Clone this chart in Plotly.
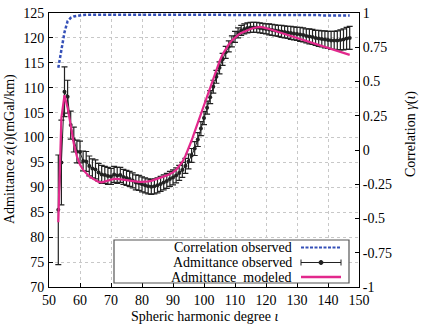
import plotly.graph_objects as go

degree = list(range(53, 148))

admittance_observed = [
    85.5, 95.0, 109.2, 108.2, 102.5, 99.6, 97.2, 97.1, 95.3, 95.2,   # 53-62
    94.3, 93.8, 93.6, 93.0, 92.6, 92.5, 92.3, 92.2, 92.6, 92.4,      # 63-72
    92.5, 92.1, 91.9, 91.7, 91.4, 91.0, 90.9, 90.6, 90.4, 90.2,      # 73-82
    90.1, 90.2, 90.4, 90.7, 91.0, 91.3, 91.7, 92.0, 92.4, 92.9,      # 83-92
    93.5, 94.3, 95.2, 96.4, 97.8, 99.6, 101.8, 103.9, 106.0, 108.1,  # 93-102
    110.2, 112.2, 114.0, 115.7, 117.1, 118.3, 119.3, 120.2, 121.0, 121.5,  # 103-112
    121.8, 122.0, 122.1, 122.1, 122.1, 122.0, 121.9, 121.8, 121.7, 121.6,  # 113-122
    121.5, 121.4, 121.3, 121.2, 121.1, 121.0, 120.9, 120.8, 120.7, 120.6,  # 123-132
    120.4, 120.3, 120.2, 120.0, 119.9, 119.8, 119.7, 119.6, 119.5, 119.5,  # 133-142
    119.5, 119.6, 119.7, 119.9, 120.0,                                      # 143-147
]

admittance_error = [
    11.0, 8.5, 5.0, 3.3, 2.8, 2.5, 2.3, 2.2, 2.0, 2.0,
    2.0, 1.9, 1.9, 1.8, 1.8, 1.7, 1.7, 1.6, 1.6, 1.6,
    1.5, 1.5, 1.5, 1.5, 1.5, 1.5, 1.5, 1.5, 1.5, 1.5,
    1.5, 1.5, 1.5, 1.5, 1.5, 1.5, 1.5, 1.5, 1.5, 1.5,
    1.5, 1.5, 1.5, 1.4, 1.4, 1.4, 1.4, 1.3, 1.3, 1.3,
    1.3, 1.3, 1.2, 1.2, 1.2, 1.1, 1.1, 1.1, 1.0, 1.0,
    1.0, 1.0, 1.0, 1.0, 1.0, 1.0, 1.0, 1.0, 1.1, 1.1,
    1.1, 1.1, 1.2, 1.2, 1.2, 1.3, 1.3, 1.3, 1.4, 1.4,
    1.4, 1.5, 1.5, 1.5, 1.6, 1.6, 1.7, 1.7, 1.8, 1.8,
    1.9, 2.0, 2.1, 2.2, 2.3,
]

admittance_modeled = [
    83.0, 104.0, 108.5, 106.0, 102.5, 98.8, 96.2, 94.6, 93.5, 92.8,
    92.2, 91.8, 91.4, 91.1, 91.0, 91.2, 91.4, 91.6, 91.7, 91.7,
    91.6, 91.5, 91.4, 91.3, 91.2, 91.1, 91.1, 91.1, 91.1, 91.2,
    91.3, 91.5, 91.7, 91.9, 92.1, 92.4, 92.7, 93.0, 93.5, 94.2,
    95.1, 96.3, 97.8, 99.4, 101.2, 103.0, 104.9, 106.7, 108.5, 110.2,
    111.8, 113.6, 115.3, 116.7, 117.8, 118.7, 119.5, 120.1, 120.6, 121.0,
    121.3, 121.6, 121.8, 122.0, 122.1, 122.2, 122.1, 122.0, 121.8, 121.6,
    121.4, 121.2, 121.0, 120.8, 120.6, 120.4, 120.2, 120.0, 119.8, 119.6,
    119.4, 119.2, 119.0, 118.8, 118.6, 118.4, 118.2, 118.0, 117.8, 117.6,
    117.3, 117.1, 116.9, 116.7, 116.6,
]

correlation_observed = [
    0.60, 0.72, 0.86, 0.94, 0.965, 0.975, 0.98, 0.985, 0.986, 0.987,
] + [0.988] * 60 + [0.985] * 15 + [0.982] * 10

x_ticks = [50, 60, 70, 80, 90, 100, 110, 120, 130, 140, 150]
y_ticks = [70, 75, 80, 85, 90, 95, 100, 105, 110, 115, 120, 125]
corr_ticks = [1, 0.75, 0.5, 0.25, 0, -0.25, -0.5, -0.75, -1]
corr_tick_labels = ["1", "0.75", "0.5", "0.25", "0", "-0.25", "-0.5", "-0.75", "-1"]

FONT = "'Liberation Serif', 'Times New Roman', 'DejaVu Serif', serif"
PINK = "#e2288c"
BLUE = "#3550b8"

# plot-area pixel frame (for placing titles / legend in paper coordinates)
PL, PR, PT, PB = 49, 359, 13, 287


def px(xp):
    return (xp - PL) / (PR - PL)


def py(yp):
    return (PB - yp) / (PB - PT)


fig = go.Figure()

fig.add_trace(go.Scatter(
    x=degree, y=admittance_observed, mode="lines+markers",
    line=dict(color="#222222", width=1),
    marker=dict(color="#222222", size=4),
    error_y=dict(type="data", array=admittance_error, color="#222222",
                 thickness=1.2, width=3),
    name="Admittance observed", showlegend=False,
))
fig.add_trace(go.Scatter(
    x=degree, y=admittance_modeled, mode="lines",
    line=dict(color=PINK, width=2.2),
    name="Admittance modeled", showlegend=False,
))
fig.add_trace(go.Scatter(
    x=degree, y=correlation_observed, mode="lines", yaxis="y2",
    line=dict(color=BLUE, width=2.5, dash="3px,2px"),
    name="Correlation observed", showlegend=False,
))

axis_common = dict(
    showline=True, linecolor="black", linewidth=1,
    ticks="inside", ticklen=4, tickcolor="black",
    tickfont=dict(family=FONT, size=14, color="black"),
    zeroline=False,
)

fig.update_layout(
    width=423, height=328,
    margin=dict(l=PL, r=423 - PR, t=PT, b=328 - PB, autoexpand=False),
    paper_bgcolor="white", plot_bgcolor="white",
    font=dict(family=FONT, size=14, color="black"),
    xaxis=dict(
        range=[50, 150], tickvals=x_ticks,
        showgrid=True, gridcolor="#c8c8c8", griddash="dot", gridwidth=1,
        mirror=True, **axis_common,
    ),
    yaxis=dict(
        range=[70, 125], tickvals=y_ticks,
        showgrid=True, gridcolor="#c8c8c8", griddash="dot", gridwidth=1,
        ticklabelstandoff=1,
        **axis_common,
    ),
    yaxis2=dict(
        range=[-1, 1], tickvals=corr_ticks, ticktext=corr_tick_labels,
        overlaying="y", side="right", showgrid=False,
        **axis_common,
    ),
)

# Axis titles
fig.add_annotation(xref="paper", yref="paper", x=px(204), y=py(316),
                   text="Spheric harmonic degree <i>ι</i>", showarrow=False,
                   xanchor="center", yanchor="middle",
                   font=dict(family=FONT, size=14, color="black"))
fig.add_annotation(xref="paper", yref="paper", x=px(10), y=py(149),
                   text="Admittance <i>z</i>(<i>ι</i>)(mGal/km)", showarrow=False,
                   textangle=-90, xanchor="center", yanchor="middle",
                   font=dict(family=FONT, size=14, color="black"))
fig.add_annotation(xref="paper", yref="paper", x=px(411), y=py(134),
                   text="Correlation <i>γ</i>(<i>ι</i>)", showarrow=False,
                   textangle=-90, xanchor="center", yanchor="middle",
                   font=dict(family=FONT, size=14, color="black"))

# Legend box drawn manually (samples on the right of the labels)
fig.add_shape(type="rect", xref="paper", yref="paper",
              x0=px(114), x1=px(349), y0=py(283), y1=py(240),
              line=dict(color="#555555", width=1.2), fillcolor="white", layer="above")

legend_rows = [
    ("Correlation observed", 247.5, "corr"),
    ("Admittance observed", 262.5, "obs"),
    ("Admittance  modeled", 277.0, "mod"),
]
for text, ypx, kind in legend_rows:
    yp = py(ypx)
    fig.add_annotation(xref="paper", yref="paper", x=px(294), y=yp,
                       text=text, showarrow=False, xanchor="right", yanchor="middle",
                       font=dict(family=FONT, size=14, color="black"))
    x0 = px(301)
    x1 = px(341)
    if kind == "corr":
        fig.add_shape(type="line", xref="paper", yref="paper", x0=x0, x1=x1, y0=yp, y1=yp,
                      line=dict(color=BLUE, width=2, dash="3px,1.5px"), layer="above")
    elif kind == "obs":
        fig.add_shape(type="line", xref="paper", yref="paper", x0=x0, x1=x1, y0=yp, y1=yp,
                      line=dict(color="#222222", width=1), layer="above")
        for xc in (x0, x1):
            fig.add_shape(type="line", xref="paper", yref="paper", x0=xc, x1=xc,
                          y0=yp - 3 / 274, y1=yp + 3 / 274,
                          line=dict(color="#222222", width=1), layer="above")
        xm = px(321)
        fig.add_shape(type="circle", xref="paper", yref="paper",
                      x0=xm - 2 / 310, x1=xm + 2 / 310, y0=yp - 2 / 274, y1=yp + 2 / 274,
                      line=dict(color="#222222", width=1), fillcolor="#222222", layer="above")
    else:
        fig.add_shape(type="line", xref="paper", yref="paper", x0=x0, x1=x1, y0=yp, y1=yp,
                      line=dict(color=PINK, width=2.5), layer="above")

fig.write_html("out.html", config={"displayModeBar": False},
               post_script="document.body.style.margin='0px';")
